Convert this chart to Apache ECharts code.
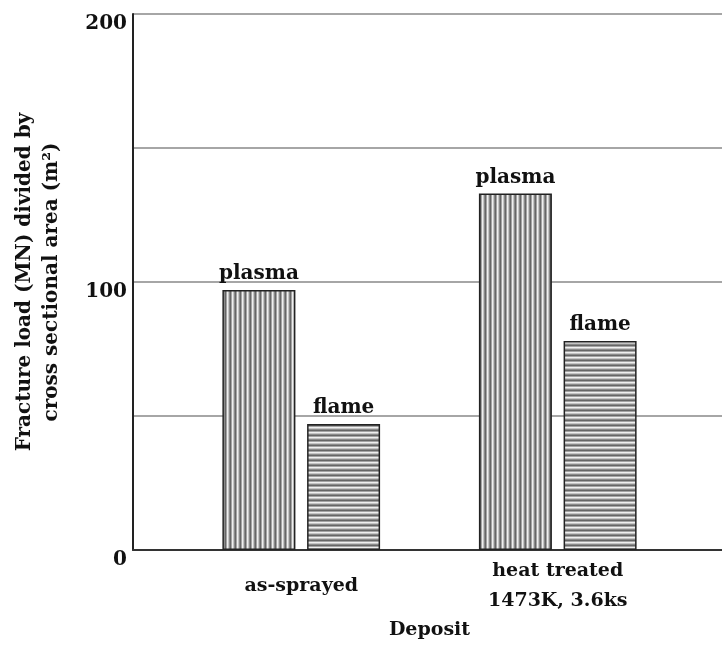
<!DOCTYPE html>
<html><head><meta charset="utf-8">
<script src="https://cdn.jsdelivr.net/npm/echarts@6/dist/echarts.min.js"></script>
<style>html,body{margin:0;padding:0;background:#fff}#c{width:722px;height:650px}</style>
</head><body><div id="c"></div>
<script>
const categories = ['as-sprayed', 'heat treated\n1473K, 3.6ks'];
const plasmaValues = [97, 133];
const flameValues = [47, 78];
const seriesNames = ['plasma', 'flame'];
const yTickLabels = [0, 100, 200];

const FONT = 'DejaVu Serif';

function makePattern(vertical) {
  const c = document.createElement('canvas');
  c.width = 5; c.height = 5;
  const g = c.getContext('2d');
  g.fillStyle = '#bdbdbd'; g.fillRect(0, 0, 5, 5);
  const cols = ['#666666', '#a4a4a4', '#efefef', '#c4c4c4', '#8a8a8a'];
  for (let i = 0; i < 5; i++) {
    g.fillStyle = cols[i];
    if (vertical) g.fillRect(i, 0, 1, 5); else g.fillRect(0, i, 5, 1);
  }
  return { image: c, repeat: 'repeat' };
}

const chart = echarts.init(document.getElementById('c'), null, { renderer: 'canvas' });
const labelStyle = { show: true, position: 'top', distance: 6, fontFamily: FONT, fontWeight: 'bold', fontSize: 20, color: '#111' };

chart.setOption({
  animation: false,
  backgroundColor: '#fff',
  grid: [
    { left: 133, right: 0, top: 14, bottom: 100, containLabel: false, outerBoundsMode: 'none' },
    { left: 173, right: 36, top: 14, bottom: 100, containLabel: false, outerBoundsMode: 'none' }
  ],
  xAxis: [
    { gridIndex: 0, type: 'value', min: 0, max: 1, axisLine: { show: true, onZero: false, lineStyle: { color: '#333', width: 2 } },
      axisTick: { show: false }, axisLabel: { show: false }, splitLine: { show: false } },
    { gridIndex: 1, type: 'category', data: categories,
      axisLine: { show: false }, axisTick: { show: false },
      axisLabel: { margin: 36, verticalAlign: 'middle', fontFamily: FONT, fontWeight: 'bold', fontSize: 19, color: '#111', lineHeight: 30 },
      name: 'Deposit', nameLocation: 'middle', nameGap: 64,
      nameTextStyle: { fontFamily: FONT, fontWeight: 'bold', fontSize: 19, color: '#111' } }
  ],
  yAxis: [
    { gridIndex: 0, type: 'value', min: 0, max: 200, interval: 50,
      axisLine: { show: true, lineStyle: { color: '#222', width: 2 } },
      axisTick: { show: false },
      axisLabel: { margin: 6, verticalAlign: 'top', fontFamily: FONT, fontWeight: 'bold', fontSize: 20, color: '#111',
        formatter: v => yTickLabels.indexOf(v) >= 0 ? String(v) : '' },
      splitLine: { show: true, lineStyle: { color: '#888', width: 1.5 } },
      name: 'Fracture load (MN) divided by\ncross sectional area (m\u00B2)',
      nameLocation: 'middle', nameGap: 68,
      nameTextStyle: { fontFamily: FONT, fontWeight: 'bold', fontSize: 20, color: '#111', lineHeight: 27 } },
    { gridIndex: 1, type: 'value', min: 0, max: 200, show: false, splitLine: { show: false } }
  ],
  series: [
    { name: seriesNames[0], type: 'bar', xAxisIndex: 1, yAxisIndex: 1, data: plasmaValues,
      barWidth: 73, barGap: '16%',
      itemStyle: { color: makePattern(true), borderColor: '#222', borderWidth: 1.5 },
      label: Object.assign({ formatter: seriesNames[0] }, labelStyle) },
    { name: seriesNames[1], type: 'bar', xAxisIndex: 1, yAxisIndex: 1, data: flameValues,
      barWidth: 73, barGap: '16%',
      itemStyle: { color: makePattern(false), borderColor: '#222', borderWidth: 1.5 },
      label: Object.assign({ formatter: seriesNames[1] }, labelStyle) }
  ]
});
</script></body></html>
